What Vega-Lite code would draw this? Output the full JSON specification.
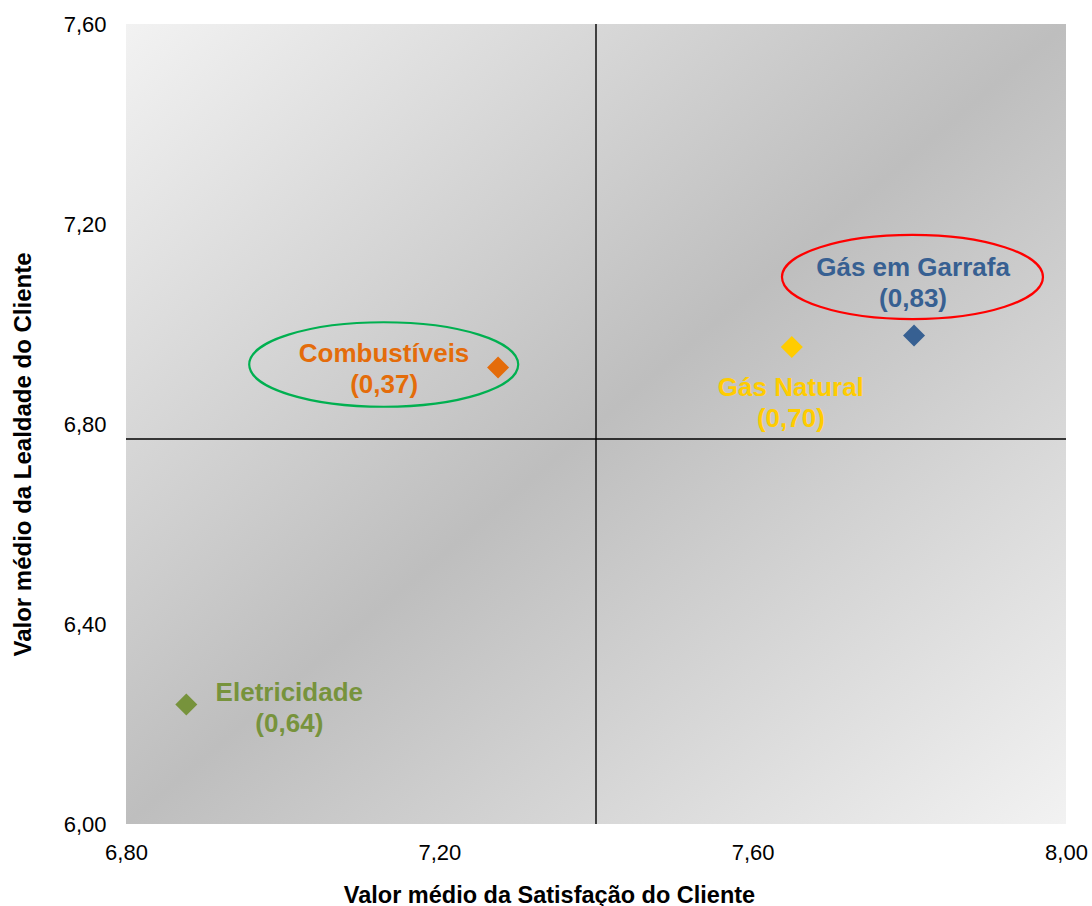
{
  "$schema": "https://vega.github.io/schema/vega-lite/v6.json",
  "width": 940,
  "height": 800,
  "autosize": {"type": "none"},
  "padding": {"left": 126, "top": 24, "right": 26, "bottom": 82},
  "background": "white",
  "config": {
    "locale": {"number": {"decimal": ",", "thousands": ".", "grouping": [3], "currency": ["", " €"]}},
    "view": {"stroke": null},
    "font": "Liberation Sans"
  },
  "datasets": {
    "setores": [
      {"setor": "Combustíveis", "satisfacao": 7.275, "lealdade": 6.913, "indice": "0,37"},
      {"setor": "Gás Natural", "satisfacao": 7.650, "lealdade": 6.954, "indice": "0,70"},
      {"setor": "Gás em Garrafa", "satisfacao": 7.806, "lealdade": 6.977, "indice": "0,83"},
      {"setor": "Eletricidade", "satisfacao": 6.877, "lealdade": 6.239, "indice": "0,64"}
    ],
    "medias": [{"satisfacao": 7.40, "lealdade": 6.77}],
    "destaques": [
      {"setor": "Combustíveis", "satisfacao": 7.129, "lealdade": 6.919},
      {"setor": "Gás em Garrafa", "satisfacao": 7.804, "lealdade": 7.094}
    ],
    "quadro": [{"satisfacao": 6.8, "satisfacao_fim": 8.0, "lealdade": 6.0, "lealdade_fim": 7.6}]
  },
  "layer": [
    {
      "data": {"name": "quadro"},
      "mark": {
        "type": "rect",
        "fill": {
          "gradient": "linear", "x1": 0, "y1": 0, "x2": 1, "y2": 1,
          "stops": [
            {"offset": 0, "color": "#F2F2F2"},
            {"offset": 0.5, "color": "#BEBEBE"},
            {"offset": 1, "color": "#F2F2F2"}
          ]
        }
      },
      "encoding": {
        "x": {
          "field": "satisfacao", "type": "quantitative",
          "scale": {"domain": [6.8, 8.0], "nice": false, "zero": false},
          "axis": {
            "values": [6.8, 7.2, 7.6, 8.0],
            "format": ".2f",
            "domain": false, "ticks": false, "grid": false,
            "labelFontSize": 22, "labelColor": "#000000", "labelFont": "Liberation Sans",
            "labelPadding": 35, "labelBaseline": "alphabetic",
            "labelFlush": false, "labelOverlap": false, "labelBound": false,
            "title": "Valor médio da Satisfação do Cliente",
            "titleFont": "Liberation Sans", "titleFontSize": 23.5, "titleFontWeight": "bold", "titleColor": "#000000",
            "titleX": 423, "titleY": 78, "titleBaseline": "alphabetic", "titleAlign": "center"
          }
        },
        "x2": {"field": "satisfacao_fim"},
        "y": {
          "field": "lealdade", "type": "quantitative",
          "scale": {"domain": [6.0, 7.6], "nice": false, "zero": false},
          "axis": {
            "values": [6.0, 6.4, 6.8, 7.2, 7.6],
            "format": ".2f",
            "domain": false, "ticks": false, "grid": false,
            "labelFontSize": 22, "labelColor": "#000000", "labelFont": "Liberation Sans",
            "labelPadding": 20, "labelBaseline": "middle",
            "labelFlush": false, "labelOverlap": false, "labelBound": false,
            "title": "Valor médio da Lealdade do Cliente",
            "titleFont": "Liberation Sans", "titleFontSize": 24, "titleFontWeight": "bold", "titleColor": "#000000",
            "titleAngle": -90, "titleX": -96, "titleY": 430, "titleBaseline": "alphabetic", "titleAlign": "center"
          }
        },
        "y2": {"field": "lealdade_fim"}
      }
    },
    {
      "data": {"name": "medias"},
      "mark": {"type": "rule", "color": "#000000", "strokeWidth": 1.4},
      "encoding": {
        "x": {"field": "satisfacao", "type": "quantitative"}
      }
    },
    {
      "data": {"name": "medias"},
      "mark": {"type": "rule", "color": "#000000", "strokeWidth": 1.4},
      "encoding": {
        "y": {"field": "lealdade", "type": "quantitative"}
      }
    },
    {
      "data": {"name": "destaques"},
      "transform": [{"filter": "datum.setor === 'Combustíveis'"}],
      "mark": {
        "type": "point",
        "shape": "M -1 0 A 1 0.314 0 1 1 1 0 A 1 0.314 0 1 1 -1 0 Z",
        "size": 72361,
        "filled": false,
        "stroke": "#00B050",
        "strokeWidth": 2.2,
        "opacity": 1
      },
      "encoding": {
        "x": {"field": "satisfacao", "type": "quantitative"},
        "y": {"field": "lealdade", "type": "quantitative"}
      }
    },
    {
      "data": {"name": "destaques"},
      "transform": [{"filter": "datum.setor === 'Gás em Garrafa'"}],
      "mark": {
        "type": "point",
        "shape": "M -1 0 A 1 0.323 0 1 1 1 0 A 1 0.323 0 1 1 -1 0 Z",
        "size": 68121,
        "filled": false,
        "stroke": "#FF0000",
        "strokeWidth": 2.2,
        "opacity": 1
      },
      "encoding": {
        "x": {"field": "satisfacao", "type": "quantitative"},
        "y": {"field": "lealdade", "type": "quantitative"}
      }
    },
    {
      "data": {"name": "setores"},
      "transform": [
        {"calculate": "datum.setor + '\\n(' + datum.indice + ')'", "as": "rotulo"}
      ],
      "encoding": {
        "x": {"field": "satisfacao", "type": "quantitative"},
        "y": {"field": "lealdade", "type": "quantitative"},
        "text": {"field": "rotulo"},
        "color": {
          "field": "setor", "type": "nominal", "legend": null,
          "scale": {
            "domain": ["Combustíveis", "Gás Natural", "Gás em Garrafa", "Eletricidade"],
            "range": ["#E46C0A", "#FFCC00", "#376092", "#77933C"]
          }
        }
      },
      "layer": [
        {
          "transform": [{"filter": "datum.setor === 'Combustíveis'"}],
          "mark": {"type": "text", "lineBreak": "\n", "fontSize": 26, "fontWeight": "bold", "lineHeight": 31, "align": "center", "baseline": "alphabetic", "dx": -114, "dy": -6}
        },
        {
          "transform": [{"filter": "datum.setor === 'Gás em Garrafa'"}],
          "mark": {"type": "text", "lineBreak": "\n", "fontSize": 26, "fontWeight": "bold", "lineHeight": 31, "align": "center", "baseline": "alphabetic", "dx": -1, "dy": -60}
        },
        {
          "transform": [{"filter": "datum.setor === 'Gás Natural'"}],
          "mark": {"type": "text", "lineBreak": "\n", "fontSize": 26, "fontWeight": "bold", "lineHeight": 31, "align": "center", "baseline": "alphabetic", "dx": -1, "dy": 49}
        },
        {
          "transform": [{"filter": "datum.setor === 'Eletricidade'"}],
          "mark": {"type": "text", "lineBreak": "\n", "fontSize": 26, "fontWeight": "bold", "lineHeight": 31, "align": "center", "baseline": "alphabetic", "dx": 103, "dy": -4}
        }
      ]
    },
    {
      "data": {"name": "setores"},
      "mark": {"type": "point", "shape": "diamond", "filled": true, "size": 484, "opacity": 1},
      "encoding": {
        "x": {"field": "satisfacao", "type": "quantitative"},
        "y": {"field": "lealdade", "type": "quantitative"},
        "color": {
          "field": "setor", "type": "nominal", "legend": null,
          "scale": {
            "domain": ["Combustíveis", "Gás Natural", "Gás em Garrafa", "Eletricidade"],
            "range": ["#E46C0A", "#FFCC00", "#376092", "#77933C"]
          }
        }
      }
    }
  ]
}
